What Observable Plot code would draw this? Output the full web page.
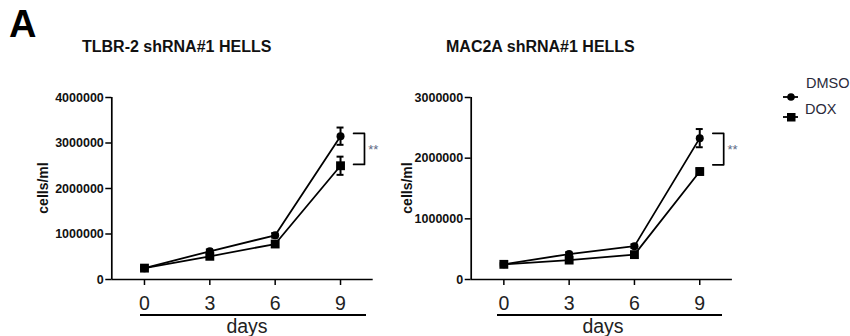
<!DOCTYPE html>
<html><head><meta charset="utf-8">
<script src="https://cdn.jsdelivr.net/npm/d3@7"></script>
<script src="https://cdn.jsdelivr.net/npm/@observablehq/plot@0.6"></script>
<style>
body{margin:0;background:#fff;font-family:"Liberation Sans",Arial,sans-serif;}
#wrap{position:relative;width:850px;height:336px;overflow:hidden;background:#fff;}
.abs{position:absolute;white-space:nowrap;line-height:1;}
.panel{position:absolute;top:0;}
</style></head><body><div id="wrap"></div>
<script>
// ---- data ----
const days = [0, 3, 6, 9];
const seriesNames = ["DMSO", "DOX"];
const tlbrDMSO    = [250000, 620000, 970000, 3150000];
const tlbrDMSOerr = [30000, 40000, 50000, 190000];
const tlbrDOX     = [250000, 510000, 780000, 2500000];
const tlbrDOXerr  = [30000, 40000, 50000, 200000];
const macDMSO     = [250000, 420000, 550000, 2330000];
const macDMSOerr  = [20000, 30000, 30000, 150000];
const macDOX      = [250000, 320000, 410000, 1780000];
const macDOXerr   = [20000, 20000, 30000, 50000];
const tlbrTicks = [0, 1000000, 2000000, 3000000, 4000000];
const macTicks  = [0, 1000000, 2000000, 3000000];
const titles = ["TLBR-2 shRNA#1 HELLS", "MAC2A shRNA#1 HELLS"];
const sigLabel = "**";
const tlbrBracket = [3210000, 2530000];
const macBracket  = [2410000, 1890000];

const FONT = '"Liberation Sans", Arial, sans-serif';
const wrap = document.getElementById("wrap");

function rowsOf(dmso, dmsoErr, dox, doxErr) {
  const rows = [];
  days.forEach((d, i) => {
    rows.push({day: d, series: seriesNames[0], v: dmso[i], e: dmsoErr[i]});
    rows.push({day: d, series: seriesNames[1], v: dox[i], e: doxErr[i]});
  });
  return rows;
}

function panel({rows, yMax, yTicks, bracket, width, marginLeft, marginRight}) {
  const xMin = -1.5, xMax = 10.5;
  const bx = [{x: 9.6, y: bracket[0]}, {x: 10.1, y: bracket[0]}, {x: 10.1, y: bracket[1]}, {x: 9.6, y: bracket[1]}];
  return Plot.plot({
    width, height: 336, marginLeft, marginRight, marginTop: 97, marginBottom: 57,
    style: {fontFamily: FONT, background: "transparent", overflow: "visible"},
    x: {domain: [xMin, xMax], axis: null},
    y: {domain: [0, yMax], axis: null},
    symbol: {domain: seriesNames, range: ["circle", "square"]},
    marks: [
      Plot.ruleY([0], {x1: xMin, x2: xMax, stroke: "#000", strokeWidth: 1.7}),
      Plot.ruleX([xMin], {y1: 0, y2: yMax, stroke: "#000", strokeWidth: 1.7}),
      Plot.axisY({ticks: yTicks, tickFormat: d3.format("d"), tickSize: 6, tickPadding: 2,
        fontSize: 12.5, fontWeight: "bold", fill: "#111", stroke: "#000", strokeWidth: 1.5, label: null}),
      Plot.axisX({ticks: days, tickSize: 6, tickPadding: 11, fontSize: 19.5, fill: "#222",
        stroke: "#000", strokeWidth: 1.5, label: null}),
      Plot.line(rows, {x: "day", y: "v", z: "series", stroke: "#000", strokeWidth: 1.8}),
      Plot.ruleX(rows, {x: "day", y1: d => d.v - d.e, y2: d => d.v + d.e, stroke: "#000", strokeWidth: 2}),
      Plot.ruleY(rows, {y: d => d.v + d.e, x1: d => d.day - 0.16, x2: d => d.day + 0.16, stroke: "#000", strokeWidth: 2}),
      Plot.ruleY(rows, {y: d => d.v - d.e, x1: d => d.day - 0.16, x2: d => d.day + 0.16, stroke: "#000", strokeWidth: 2}),
      Plot.dot(rows.filter(d => d.series === "DMSO"), {x: "day", y: "v", symbol: "series", fill: "#000", r: 4}),
      Plot.dot(rows.filter(d => d.series === "DOX"), {x: "day", y: "v", symbol: "series", fill: "#000", r: 5}),
      Plot.line(bx, {x: "x", y: "y", stroke: "#000", strokeWidth: 1.7}),
      Plot.text([sigLabel], {x: 10.27, y: (bracket[0] + bracket[1]) / 2, text: d => d, textAnchor: "start",
        fontSize: 13, fill: "#5d6a86", dy: 1})
    ]
  });
}

const left = panel({rows: rowsOf(tlbrDMSO, tlbrDMSOerr, tlbrDOX, tlbrDOXerr), yMax: 4000000, yTicks: tlbrTicks,
  bracket: tlbrBracket, width: 420, marginLeft: 111.3, marginRight: 47.3});
left.classList.add("panel"); left.style.left = "0px";
wrap.appendChild(left);

const right = panel({rows: rowsOf(macDMSO, macDMSOerr, macDOX, macDOXerr), yMax: 3000000, yTicks: macTicks,
  bracket: macBracket, width: 470, marginLeft: 90.7, marginRight: 118.1});
right.classList.add("panel"); right.style.left = "380px";
wrap.appendChild(right);

function addText(txt, css) {
  const d = document.createElement("div");
  d.className = "abs";
  d.textContent = txt;
  Object.assign(d.style, css);
  wrap.appendChild(d);
  return d;
}
addText("A", {left: "9px", top: "5px", fontSize: "38px", fontWeight: "bold", color: "#000"});
addText(titles[0], {left: "82px", top: "39px", fontSize: "16px", fontWeight: "bold", color: "#111"});
addText(titles[1], {left: "446px", top: "39px", fontSize: "16px", fontWeight: "bold", color: "#111"});
addText("cells/ml", {left: "43px", top: "188px", fontSize: "14px", fontWeight: "bold", color: "#111", transform: "translate(-50%,-50%) rotate(-90deg)"});
addText("cells/ml", {left: "407px", top: "188px", fontSize: "14px", fontWeight: "bold", color: "#111", transform: "translate(-50%,-50%) rotate(-90deg)"});
// days bars + labels
function bar(x1, x2) {
  const d = document.createElement("div");
  Object.assign(d.style, {position: "absolute", left: x1 + "px", top: "314px", width: (x2 - x1) + "px", height: "2px", background: "#000"});
  wrap.appendChild(d);
}
bar(140, 366); bar(497, 722);
addText("days", {left: "247px", top: "317px", fontSize: "19.5px", color: "#222", transform: "translateX(-50%)"});
addText("days", {left: "603px", top: "317px", fontSize: "19.5px", color: "#222", transform: "translateX(-50%)"});
// legend
const lg = document.createElementNS("http://www.w3.org/2000/svg", "svg");
lg.setAttribute("width", 80); lg.setAttribute("height", 60);
Object.assign(lg.style, {position: "absolute", left: "775px", top: "85px"});
lg.innerHTML = `<line x1="8" x2="23" y1="12" y2="12" stroke="#000" stroke-width="1.8"/>
<circle cx="16" cy="12" r="3.8" fill="#000"/>
<line x1="8" x2="23" y1="32" y2="32" stroke="#000" stroke-width="1.8"/>
<rect x="12" y="28" width="8.5" height="8.5" fill="#000"/>`;
wrap.appendChild(lg);
addText(seriesNames[0], {left: "806px", top: "76px", fontSize: "14.5px", color: "#2a2a3a"});
addText(seriesNames[1], {left: "805px", top: "102px", fontSize: "14.5px", color: "#2a2a3a"});
</script></body></html>
